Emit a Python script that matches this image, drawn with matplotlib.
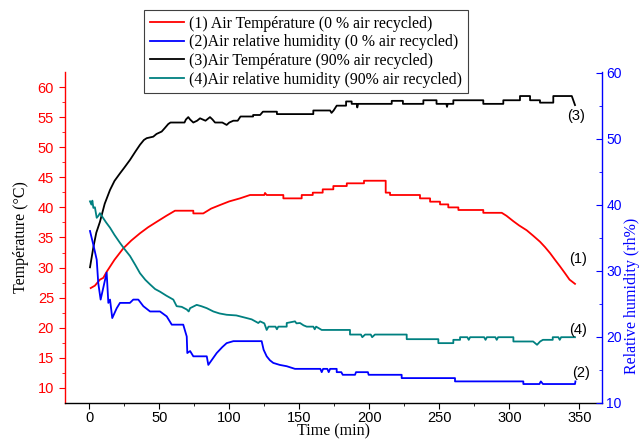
import matplotlib
matplotlib.use("Agg")
import matplotlib.pyplot as plt
from matplotlib.ticker import MultipleLocator

# ---------------- data ----------------
# (1) Air temperature, 0 % recycled (left axis)
t1 = [1.0, 4, 7.6, 10, 12.4, 18, 24.3, 30, 36.2, 42, 48.1, 55, 61.2, 74.3, 74.3, 81.4, 87, 93.4,
      100, 107.6, 114.8, 125.0, 125.5, 126.7, 138.6, 138.6, 151.7, 151.7, 159.6, 159.6, 166.7,
      166.7, 174.3, 174.3, 183.9, 183.9, 196.2, 196.2, 211.7, 211.7, 214.8, 214.8, 236.2, 236.2,
      243.4, 243.4, 250.5, 250.5, 256.4, 256.4, 263.6, 263.6, 281.4, 281.4, 294.6, 298, 302.9,
      307, 312.4, 317, 321.9, 325.5, 329.1, 332.6, 336.2, 339.8, 343, 346.9]
T1 = [26.6, 27.0, 28.0, 28.3, 29.3, 31.3, 33.2, 34.5, 35.7, 36.7, 37.6, 38.6, 39.45, 39.45, 39.0,
      39.0, 39.8, 40.4, 41.0, 41.5, 42.06, 42.06, 42.4, 42.06, 42.06, 41.5, 41.5, 42.06, 42.06,
      42.45, 42.45, 43.0, 43.0, 43.55, 43.55, 44.0, 44.0, 44.43, 44.43, 42.45, 42.45, 42.06, 42.06,
      41.5, 41.5, 40.95, 40.95, 40.5, 40.5, 40.0, 40.0, 39.57, 39.57, 39.1, 39.1, 38.6, 37.7,
      37.0, 36.2, 35.3, 34.3, 33.4, 32.4, 31.3, 30.2, 29.05, 28.0, 27.3]

# (2) Air relative humidity, 0 % recycled (right axis)
t2 = [0.5, 2.9, 5.3, 6.4, 8.1, 10.0, 12.4, 13.6, 14.8, 16.4, 19.6, 21.9, 29, 31.4, 35, 38.6, 43.4,
      50.5, 55.3, 58.9, 67.1, 69.6, 70.0, 72, 74.3, 83.9, 85, 88, 91, 95, 98.1, 102.9, 123.1,
      124.5, 126.7, 129, 131.4, 136, 141, 146.9, 165, 166, 167, 170, 171, 172, 176.7, 176.7, 180,
      181, 189.8, 190.5, 199, 199.5, 223.1, 223.1, 261.2, 261.2, 310, 310, 321.5, 322.5, 324,
      346.9, 347.2]
RH2 = [36.0, 33.9, 31.65, 28.1, 25.6, 27.4, 29.7, 25.1, 25.6, 22.8, 24.3, 25.1, 25.1, 25.6, 25.6,
       24.6, 23.8, 23.8, 23.05, 21.8, 21.8, 20.0, 17.5, 17.8, 17.0, 17.0, 15.7, 16.6, 17.5, 18.4,
       19.0, 19.3, 19.3, 18.0, 17.0, 16.4, 16.0, 15.7, 15.5, 15.1, 15.1, 14.6, 15.1, 15.1, 14.6,
       15.1, 15.1, 14.6, 14.6, 14.2, 14.2, 14.6, 14.6, 14.2, 14.2, 13.7, 13.7, 13.2, 13.2, 12.8,
       12.8, 13.2, 12.8, 12.8, 13.2]

# (3) Air temperature, 90 % recycled (left axis)
t3 = [0.5, 3, 5, 7.6, 11, 14.8, 18, 21.9, 25, 29.1, 33, 36.2, 39, 41.0, 45.7, 48, 51.7, 54, 56.4,
      58, 68, 69, 70.7, 72, 74.3, 77, 79.1, 83, 86.2, 88, 89.8, 95, 98.1, 100, 102.9, 106, 108,
      117, 117, 122, 124, 134, 134, 160, 160, 172, 173, 174.5, 176.7, 183.4, 183.4, 187.4, 187.4,
      191, 191.4, 192, 216, 216, 224, 224, 238.6, 238.6, 248, 248, 255, 255.5, 256, 260, 260,
      281.4, 281.4, 295.7, 295.7, 307.6, 307.6, 314.8, 314.8, 321.9, 321.9, 331.4, 331.4, 344.6,
      346.9]
T3 = [30.05, 33.5, 35.8, 37.6, 40.6, 42.9, 44.4, 45.65, 46.6, 47.9, 49.3, 50.4, 51.2, 51.5, 51.75,
      52.2, 52.6, 53.2, 53.85, 54.1, 54.1, 54.6, 55.0, 54.6, 54.1, 54.4, 54.8, 54.4, 55.0, 54.6,
      54.1, 54.1, 53.7, 54.1, 54.4, 54.4, 55.1, 55.1, 55.35, 55.35, 55.9, 55.9, 55.5, 55.5, 56.1,
      56.1, 55.7, 56.1, 56.9, 56.9, 57.6, 57.6, 57.2, 57.2, 56.6, 57.2, 57.2, 57.7, 57.7, 57.2,
      57.2, 57.8, 57.8, 57.2, 57.2, 56.7, 57.2, 57.2, 57.8, 57.8, 57.2, 57.2, 57.8, 57.8, 58.5,
      58.5, 57.8, 57.8, 57.4, 57.4, 58.5, 58.5, 57.0]

# (4) Air relative humidity, 90 % recycled (right axis)
t4 = [0.5, 1.5, 2.2, 2.9, 4, 5.3, 6.5, 7.6, 9.8, 12, 14.8, 18, 21.9, 25, 29.1, 33, 36.2, 40, 43.4,
      47, 50.5, 55, 60, 62.4, 66, 69.6, 71, 72, 76.7, 80, 83.9, 88.6, 93, 98.1, 105, 112.4, 116,
      120.7, 122, 125, 126.7, 128, 133, 134, 135, 141, 141, 146.9, 148, 150.5, 153, 155.3, 160,
      161, 162, 166, 186.2, 186.2, 194, 195, 197, 201, 202, 204, 226.7, 226.7, 249.3, 249.3, 260,
      260, 264.8, 264.8, 270, 271, 272, 282, 283, 284, 290, 291, 292, 302.9, 302.9, 317, 319.8,
      322, 324, 331, 331, 335, 336, 337, 346.9]
RH4 = [40.5, 40.0, 40.6, 39.5, 39.6, 38.0, 38.3, 38.7, 38.0, 37.3, 36.5, 35.4, 34.2, 33.3, 32.2,
       30.8, 29.6, 28.6, 27.9, 27.2, 26.8, 26.2, 25.6, 24.6, 24.5, 24.1, 23.8, 24.3, 24.8, 24.6,
       24.3, 23.8, 23.5, 23.3, 23.2, 22.8, 22.6, 22.05, 22.3, 22.0, 21.0, 21.5, 21.5, 21.1, 21.5,
       21.5, 22.05, 22.3, 22.0, 22.05, 21.7, 21.5, 21.5, 21.1, 21.5, 21.0, 21.0, 20.3, 20.3, 19.9,
       20.3, 20.3, 19.9, 20.3, 20.3, 19.6, 19.6, 19.0, 19.0, 19.5, 19.5, 19.9, 19.9, 19.5, 19.9,
       19.9, 19.5, 19.9, 19.9, 19.5, 19.9, 19.9, 19.25, 19.25, 18.75, 19.25, 19.5, 19.5, 19.9,
       19.9, 19.5, 19.9, 19.9]

labels = ["(1) Air Température (0 % air recycled)",
          "(2)Air relative humidity (0 % air recycled)",
          "(3)Air Température (90% air recycled)",
          "(4)Air relative humidity (90% air recycled)"]
curve_tags = ["(1)", "(2)", "(3)", "(4)"]

# ---------------- styling ----------------
RED = "#ff0000"
BLUE = "#0000ff"
TEAL = "#008080"
SERIF = ["Liberation Serif", "DejaVu Serif"]
SANS = ["Liberation Sans", "DejaVu Sans"]
plt.rcParams["font.family"] = SANS

fig = plt.figure(figsize=(6.4, 4.41), dpi=100)
ax = fig.add_axes([0.1008, 0.0873, 0.8392, 0.7494])
ax2 = ax.twinx()

lw = 1.3
l1, = ax.plot(t1, T1, color=RED, lw=lw)
l3, = ax.plot(t3, T3, color="black", lw=lw)
l2, = ax2.plot(t2, RH2, color=BLUE, lw=lw)
l4, = ax2.plot(t4, RH4, color=TEAL, lw=lw)

ax.set_xlim(-17.7, 365.9)
ax.set_ylim(7.59, 62.49)
ax2.set_ylim(10, 60.1)

ax.xaxis.set_major_locator(MultipleLocator(50))
ax.xaxis.set_minor_locator(MultipleLocator(25))
ax.yaxis.set_major_locator(MultipleLocator(5))
ax.yaxis.set_minor_locator(MultipleLocator(2.5))
ax2.yaxis.set_major_locator(MultipleLocator(10))
ax2.yaxis.set_minor_locator(MultipleLocator(5))

for a in (ax, ax2):
    a.spines["top"].set_visible(False)
ax.spines["right"].set_visible(False)
ax2.spines["left"].set_visible(False)
ax2.spines["bottom"].set_visible(False)
ax.spines["left"].set_color(RED)
ax.spines["bottom"].set_color("black")
ax2.spines["right"].set_color(BLUE)
for s in ("left", "bottom"):
    ax.spines[s].set_linewidth(1.0)
ax2.spines["right"].set_linewidth(1.0)

ax.tick_params(axis="x", which="both", direction="out", colors="black", labelsize=10.5, pad=2)
ax.tick_params(axis="x", which="major", length=4)
ax.tick_params(axis="x", which="minor", length=2.5)
ax.tick_params(axis="y", which="both", direction="out", colors=RED, labelcolor=RED, labelsize=10.5)
ax.tick_params(axis="y", which="major", length=4)
ax.tick_params(axis="y", which="minor", length=2.5)
ax2.tick_params(axis="y", which="both", direction="in", colors=BLUE, labelcolor=BLUE, labelsize=10)
ax2.tick_params(axis="y", which="major", length=4)
ax2.tick_params(axis="y", which="minor", length=2.5)

ax.set_xlabel("Time (min)", family=SERIF, fontsize=11.5, labelpad=-1)
ax.yaxis.set_label_coords(-0.066, 0.51)
ax.set_ylabel("Température (°C)", family=SERIF, fontsize=11.5)
fig.text(632 / 640, 1 - 296 / 441, "Relative humidity (rh%)", family=SERIF, fontsize=11.5,
         color=BLUE, rotation=90, ha="center", va="center")

ax.text(349, 31.4, curve_tags[0], ha="center", va="center", fontsize=10.5)
ax.text(347.6, 55.2, curve_tags[2], ha="center", va="center", fontsize=10.5)
ax2.text(351, 14.5, curve_tags[1], ha="center", va="center", fontsize=10.5)
ax2.text(349, 21.0, curve_tags[3], ha="center", va="center", fontsize=10.5)

leg = fig.legend([l1, l2, l3, l4], labels, loc="upper left",
                 bbox_to_anchor=(144 / 640, 1 - 10 / 441),
                 prop={"family": SERIF, "size": 11.3}, frameon=True, fancybox=False,
                 edgecolor="#404040", framealpha=1, handlelength=2.2, handletextpad=0.3,
                 labelspacing=0.17, borderpad=0.36, borderaxespad=0)
leg.get_frame().set_linewidth(0.8)

fig.savefig("out.png", dpi=100)
